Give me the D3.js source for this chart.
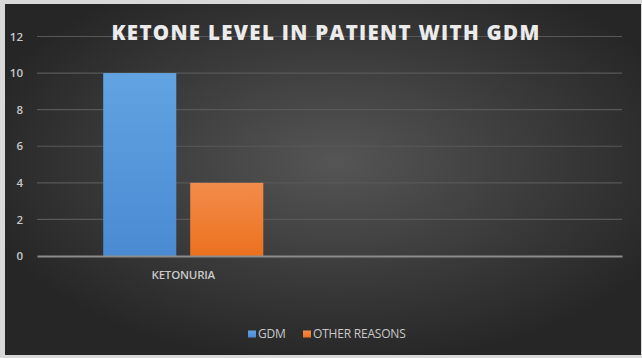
<!DOCTYPE html>
<html>
<head>
<meta charset="utf-8">
<script src="https://cdn.jsdelivr.net/npm/d3@7"></script>
<style>
  html, body { margin: 0; padding: 0; background: #d9d9d9; }
  svg { display: block; }
</style>
</head>
<body>
<svg id="chart" width="642" height="358"></svg>
<script>
// Chart data
const categories = ["KETONURIA", ""];
const seriesNames = ["GDM", "OTHER REASONS"];
const gdmValues = [10, null];
const otherValues = [4, null];
const yTicks = [0, 2, 4, 6, 8, 10, 12];
const titleText = "KETONE LEVEL IN PATIENT WITH GDM";

const seriesColors = {
  "GDM": ["#62a3e2", "#4a8ad2"],
  "OTHER REASONS": ["#f28c4a", "#ec711f"]
};

const svg = d3.select("#chart");
const W = 642, H = 358;

const defs = svg.append("defs");

// Dark radial backdrop
const bg = defs.append("radialGradient")
  .attr("id", "bgGrad")
  .attr("cx", "52%").attr("cy", "45%").attr("r", "58%");
bg.append("stop").attr("offset", "0%").attr("stop-color", "#555555");
bg.append("stop").attr("offset", "100%").attr("stop-color", "#262626");

// Vertical shading on bars
Object.entries(seriesColors).forEach(([name, [top, bottom]], i) => {
  const g = defs.append("linearGradient")
    .attr("id", "barGrad" + i)
    .attr("x1", 0).attr("y1", 0).attr("x2", 0).attr("y2", 1);
  g.append("stop").attr("offset", "0%").attr("stop-color", top);
  g.append("stop").attr("offset", "100%").attr("stop-color", bottom);
});

svg.append("rect")
  .attr("x", 5).attr("y", 4)
  .attr("width", W - 6).attr("height", H - 7)
  .attr("fill", "url(#bgGrad)");

const plot = { left: 37, right: 622, top: 36.5, bottom: 256 };

const x = d3.scaleBand()
  .domain(categories)
  .range([plot.left, plot.right])
  .paddingInner(0).paddingOuter(0);

const xSub = d3.scaleBand()
  .domain(seriesNames)
  .range([0, x.bandwidth()])
  .paddingInner(0.16)
  .paddingOuter(0.761);

const y = d3.scaleLinear()
  .domain([0, 12])
  .range([plot.bottom, plot.top]);

// Gridlines
svg.append("g")
  .selectAll("line")
  .data(yTicks.filter(t => t !== 0))
  .join("line")
  .attr("x1", plot.left).attr("x2", plot.right)
  .attr("y1", d => y(d)).attr("y2", d => y(d))
  .attr("stroke", "#585858")
  .attr("stroke-width", 1.2);

// Y axis labels
const yAxis = d3.axisLeft(y).tickValues(yTicks).tickSize(0).tickPadding(0);
const yg = svg.append("g")
  .attr("transform", `translate(23,0)`)
  .call(yAxis);
yg.select(".domain").remove();
yg.selectAll("text")
  .attr("fill", "#c8c8c8")
  .style("font-family", "'Open Sans', sans-serif")
  .style("font-size", "11.5px")
  .style("font-weight", "600");

// Bars
const rows = categories.map((c, i) => ({
  category: c,
  values: [
    { series: "GDM", value: gdmValues[i], idx: 0 },
    { series: "OTHER REASONS", value: otherValues[i], idx: 1 }
  ]
}));

const groups = svg.append("g")
  .selectAll("g")
  .data(rows)
  .join("g")
  .attr("transform", d => `translate(${x(d.category)},0)`);

groups.selectAll("rect")
  .data(d => d.values.filter(v => v.value != null))
  .join("rect")
  .attr("x", d => xSub(d.series))
  .attr("width", xSub.bandwidth())
  .attr("y", d => y(d.value))
  .attr("height", d => y(0) - y(d.value))
  .attr("fill", d => `url(#barGrad${d.idx})`);

// Baseline axis
const xAxis = d3.axisBottom(x).tickSize(0).tickPadding(0);
const xg = svg.append("g")
  .attr("transform", `translate(0,${y(0)})`)
  .call(xAxis);
xg.select(".domain")
  .attr("stroke", "#8c8c8c")
  .attr("stroke-width", 2);
xg.selectAll("text")
  .attr("dy", 0)
  .attr("y", 23)
  .attr("fill", "#c8c8c8")
  .style("font-family", "'Open Sans', sans-serif")
  .style("font-size", "11.5px")
  .style("font-weight", "600")
  .style("letter-spacing", "-0.2px");

// Title
svg.append("text")
  .attr("x", 326)
  .attr("y", 40)
  .attr("text-anchor", "middle")
  .attr("fill", "#ebebeb")
  .style("font-family", "'Open Sans', sans-serif")
  .style("font-size", "20.5px")
  .style("font-weight", "800")
  .style("letter-spacing", "1.3px")
  .text(titleText);

// Legend
const legend = svg.append("g").attr("transform", "translate(248,334)");
const legendX = [0, 55];
const items = legend.selectAll("g")
  .data(seriesNames)
  .join("g")
  .attr("transform", (d, i) => `translate(${legendX[i]},0)`);
items.append("rect")
  .attr("x", 0).attr("y", -3.5)
  .attr("width", 8).attr("height", 7)
  .attr("fill", (d, i) => `url(#barGrad${i})`);
items.append("text")
  .attr("x", 10).attr("y", 0)
  .attr("dy", "0.35em")
  .attr("fill", "#c8c8c8")
  .style("font-family", "'Open Sans', sans-serif")
  .style("font-size", "12px")
  .style("letter-spacing", "-0.2px")
  .text(d => d);
</script>
</body>
</html>
